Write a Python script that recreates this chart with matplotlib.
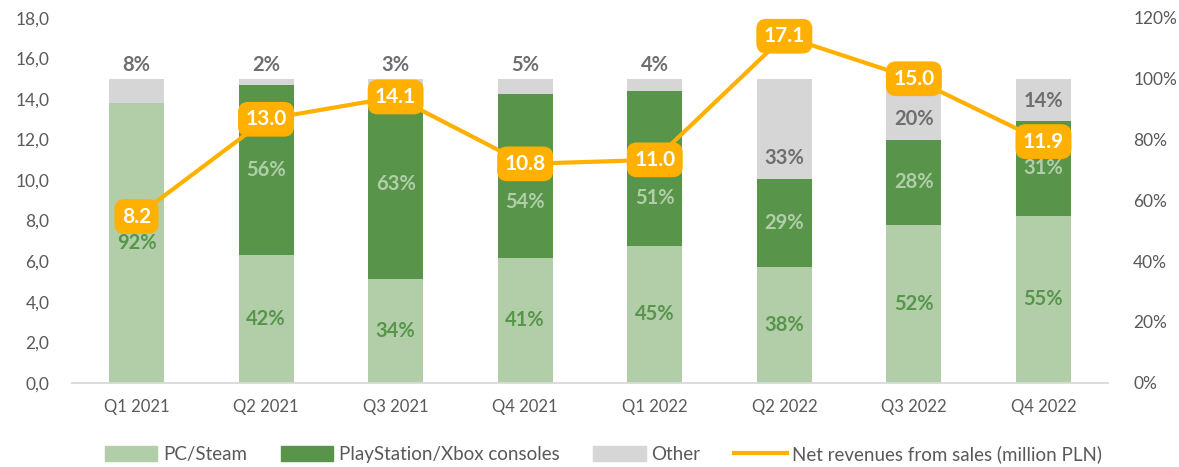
import matplotlib
matplotlib.use("Agg")
import matplotlib.pyplot as plt
from matplotlib.patches import Patch
from matplotlib.lines import Line2D
from matplotlib.ticker import FuncFormatter

plt.rcParams['font.family'] = ['Lato', 'DejaVu Sans']

quarters = ["Q1 2021", "Q2 2021", "Q3 2021", "Q4 2021", "Q1 2022", "Q2 2022", "Q3 2022", "Q4 2022"]
pc_steam = [92, 42, 34, 41, 45, 38, 52, 55]
consoles = [0, 56, 63, 54, 51, 29, 28, 31]
other = [8, 2, 3, 5, 4, 33, 20, 14]
revenue = [8.2, 13.0, 14.1, 10.8, 11.0, 17.1, 15.0, 11.9]

C_PC = "#B1CEA9"
C_CON = "#58954B"
C_OTH = "#D6D6D6"
C_LINE = "#FFB000"
C_TXT = "#6E6E6E"
C_TICK = "#595959"

fig = plt.figure(figsize=(11.79, 4.67), dpi=100)
ax = fig.add_axes([0.0608, 0.1805, 0.8792, 0.781])
ax2 = ax.twinx()

x = list(range(len(quarters)))
w = 0.425
bot2 = [a + b for a, b in zip(pc_steam, consoles)]
ax2.bar(x, pc_steam, w, color=C_PC, zorder=2)
ax2.bar(x, consoles, w, bottom=pc_steam, color=C_CON, zorder=2)
ax2.bar(x, other, w, bottom=bot2, color=C_OTH, zorder=2)

# scale factor between percent axis and revenue axis (120% <-> 18)
k = 120 / 18
lab_font = dict(fontsize=14.5, fontweight='bold', ha='center', va='center')
for i in x:
    ax2.text(i, pc_steam[i] / 2, f"{pc_steam[i]}%", color=C_CON, **lab_font)
    if consoles[i] > 0:
        yc = pc_steam[i] + consoles[i] / 2
        # avoid collision with the revenue label box
        if abs(yc / k - revenue[i]) < 1.2:
            yc = (revenue[i] - 1.9) * k
        ax2.text(i, yc, f"{consoles[i]}%", color=C_PC, **lab_font)
    if other[i] < 10:
        ax2.text(i, 100 + 4.6, f"{other[i]}%", color=C_TXT, **lab_font)
    else:
        ax2.text(i, bot2[i] + 6.8, f"{other[i]}%", color=C_TXT, **lab_font)

ax2.set_ylim(0, 120)
ax2.set_yticks(range(0, 121, 20))
ax2.yaxis.set_major_formatter(FuncFormatter(lambda v, p: f"{int(v)}%"))

ax.plot(x, revenue, color=C_LINE, lw=3, zorder=3, solid_capstyle='round')
for i in x:
    ax.text(i, revenue[i], f"{revenue[i]:.1f}", color='white', fontsize=15, fontweight='bold',
            ha='center', va='center', zorder=4, clip_on=False,
            bbox=dict(boxstyle='round,pad=0.32,rounding_size=0.45', fc=C_LINE, ec=C_LINE))
ax.set_ylim(0, 18)
ax.set_yticks(range(0, 19, 2))
ax.yaxis.set_major_formatter(FuncFormatter(lambda v, p: f"{v:.1f}".replace('.', ',')))
ax.set_xlim(-0.5, 7.5)
ax.set_xticks(x)
ax.set_xticklabels(quarters)

ax.set_zorder(ax2.get_zorder() + 1)
ax.patch.set_visible(False)

for a in (ax, ax2):
    for s in ['top', 'left', 'right', 'bottom']:
        a.spines[s].set_visible(False)
ax.spines['bottom'].set_visible(True)
ax.spines['bottom'].set_color('#D9D9D9')
ax.spines['bottom'].set_linewidth(1.3)

ax.tick_params(axis='y', length=0, labelsize=12.5, labelcolor=C_TICK, pad=16)
ax.tick_params(axis='x', length=0, labelsize=12, labelcolor=C_TICK, pad=12)
ax2.tick_params(axis='y', length=0, labelsize=12.5, labelcolor=C_TICK, pad=18)

handles = [Patch(color=C_PC, label='PC/Steam'),
           Patch(color=C_CON, label='PlayStation/Xbox consoles'),
           Patch(color=C_OTH, label='Other'),
           Line2D([0], [0], color=C_LINE, lw=3, label='Net revenues from sales (million PLN)')]
leg = fig.legend(handles=handles, loc='center', bbox_to_anchor=(0.512, 0.027), ncol=4, frameon=False,
                 fontsize=13.5, handlelength=2.8, handleheight=0.85, columnspacing=1.8, handletextpad=0.3)
for t in leg.get_texts():
    t.set_color(C_TICK)

fig.savefig("out.png", dpi=100)
